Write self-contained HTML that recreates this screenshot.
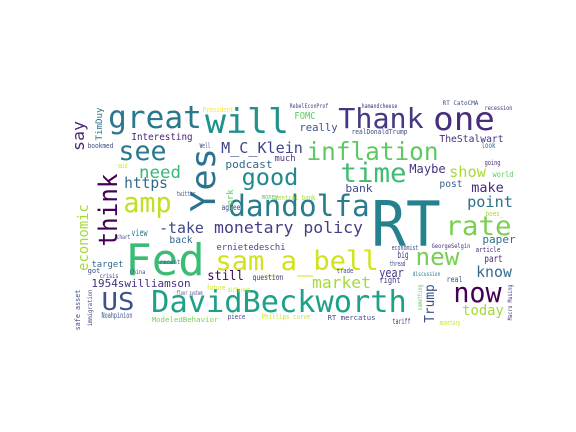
<!DOCTYPE html>
<html><head><meta charset="utf-8"><style>
html,body{margin:0;padding:0;background:#fff;}
svg{display:block;}
text{font-family:"DejaVu Sans Mono","Liberation Mono",monospace;}
</style></head><body>
<svg id="cloud" width="576" height="432" viewBox="0 0 576 432" xmlns="http://www.w3.org/2000/svg">
<rect x="0" y="0" width="576" height="432" fill="#ffffff"/>
</svg>
<script>
// word, left x, baseline y, font size, ink length, color, vertical?
const words = [
["RT",375,246,62,62,"#26818e",0],
["Fed",128,275,44,74,"#3bbb75",0],
["DavidBeckworth",153,312,30,252,"#1fa088",0],
["sam_a_bell",217,270,27,160,"#d2e21b",0],
["inflation",308,160,25,129,"#5ec962",0],
["time",342,182,27,63,"#3fbc73",0],
["Thank",340,128,28,82,"#453781",0],
["one",435,130,32,58,"#472d7b",0],
["will",207,133,34,80,"#21918c",0],
["great",110,128,31,90,"#2a788e",0],
["Yes",215,210,34,60,"#2c728e",1],
["good",243,185,23,54,"#23898e",0],
["dandolfa",230,216,29,138,"#287c8e",0],
["see",120,160,27,45,"#2a788e",0],
["think",117,245,26,70,"#440154",1],
["amp",125,212,28,45,"#c0df25",0],
["rate",447,235,27,63,"#7ad151",0],
["new",417,265,24,41,"#75d054",0],
["now",455,302,28,45,"#440154",0],
["US",103,310,25,30,"#3b528b",0],
["M_C_Klein",222,153,15,80,"#414487",0],
["monetary policy",215,233,16,147,"#433e85",0],
["market",313,288,16,57,"#a5db36",0],
["https",125,188,15,42,"#31688e",0],
["need",140,178,17,40,"#37b878",0],
["-take",160,233,15,43,"#3f4788",0],
["still",208,280,13,35,"#440154",0],
["1954swilliamson",92,287,11,98,"#46307e",0],
["show",450,177,15,35,"#a8db34",0],
["make",472,192,13,31,"#472c7a",0],
["point",468,207,15,44,"#2d708e",0],
["know",477,277,15,34,"#2f6c8e",0],
["today",463,315,14,40,"#a2da37",0],
["Trump",434,322,13,37,"#3b528b",1],
["paper",483,243,11,32,"#2e6e8e",0],
["Maybe",410,173,12,35,"#46327e",0],
["post",440,187,10,22,"#355f8d",0],
["bank",346,192,11,26,"#3e4a89",0],
["podcast",226,168,11,46,"#31688e",0],
["Interesting",132,140,10,60,"#482475",0],
["year",380,277,12,23,"#453882",0],
["economic",88,270,14,65,"#a5db36",1],
["FOMC",295,119,10,20,"#5ec962",0],
["really",300,131,11,37,"#3a548c",0],
["TheStalwart",440,142,10,63,"#46307e",0],
["realDonaldTrump",352,134,7,55,"#3e4a89",0],
["ernietedeschi",217,250,9,68,"#3e4989",0],
["back",170,243,10,22,"#33638d",0],
["view",132,236,10,15,"#2a788e",0],
["target",92,267,9,31,"#31688e",0],
["say",84,150,16,28,"#482878",1],
["TimDuy",102,140,9,32,"#2a788e",1],
["much",275,161,9,20,"#46327e",0],
["work",233,210,9,20,"#5ec962",1],
["Noahpinion",102,318,8,30,"#3b528b",0],
["ModeledBehavior",152,322,7,66,"#7ad151",0],
["Phillips curve",262,319,7,48,"#d2e21b",0],
["RT mercatus",328,320,7,47,"#3e4a89",0],
["tariff",393,324,8,17,"#46327e",0],
["monetary",440,325,7,20,"#d2e21b",0],
["question",253,280,8,30,"#46327e",0],
["future",207,290,7,18,"#d2e21b",0],
["different",228,292,6,22,"#d2e21b",0],
["floor system",177,295,6,25,"#414487",0],
["piece",228,319,7,17,"#3e4a89",0],
["right",380,283,9,20,"#453882",0],
["big",398,258,10,10,"#453882",0],
["part",485,262,10,17,"#482878",0],
["thread",390,266,7,15,"#3e4a89",0],
["trade",337,273,7,16,"#3e4a89",0],
["economist",392,250,7,26,"#3e4a89",0],
["discussion",413,276,6,27,"#2a788e",0],
["GeorgeSelgin",432,248,6,38,"#46307e",0],
["real",447,282,8,15,"#3b528b",0],
["article",476,252,7,24,"#482878",0],
["boes_",486,216,7,17,"#a5db36",0],
["world",493,177,8,20,"#5ec962",0],
["look",482,148,8,13,"#31688e",0],
["going",485,165,7,15,"#46307e",0],
["recession",485,110,6,27,"#482878",0],
["RT CatoCMA",443,105,6,35,"#3e4a89",0],
["RebelEconProf",290,108,6,38,"#3e4a89",0],
["hamandcheese",362,108,6,35,"#46327e",0],
["President",203,112,7,30,"#fde725",0],
["bookmed",88,148,7,25,"#3e4a89",0],
["twitter",177,196,7,18,"#3e4a89",0],
["agree",222,210,8,18,"#3e4a89",0],
["central bank",275,200,7,40,"#a5db36",0],
["money",262,199,7,16,"#5ec962",0],
["said",118,168,7,9,"#d2e21b",0],
["Well",200,148,7,10,"#3e4a89",0],
["got",88,273,7,12,"#3e4a89",0],
["crisis",100,278,6,18,"#46327e",0],
["China",130,274,6,15,"#3e4a89",0],
["chart",117,239,6,13,"#3e4a89",0],
["recent",160,264,6,20,"#31688e",0],
["safe asset",80,330,7,40,"#3e4a89",1],
["immigration",92,326,6,36,"#3e4a89",1],
["something",422,310,6,25,"#5ec962",1],
["Macro Musing",512,320,6,35,"#46327e",1]
];
const svg = document.getElementById('cloud');
const NS = 'http://www.w3.org/2000/svg';
for (const w of words) {
  const t = document.createElementNS(NS, 'text');
  
  
  const size = w[3];
  const off = size * 0.06;
  t.setAttribute('font-size', size);
  t.setAttribute('fill', w[5]);
  t.setAttribute('textLength', w[4] + 2 * off);
  t.setAttribute('lengthAdjust', 'spacingAndGlyphs');
  if (w[6]) {
    t.setAttribute('x', 0);
    t.setAttribute('y', 0);
    t.setAttribute('transform', 'translate(' + w[1] + ',' + (w[2] + off) + ') rotate(-90)');
  } else {
    t.setAttribute('x', w[1] - off);
    t.setAttribute('y', w[2]);
  }
  t.textContent = w[0];
  svg.appendChild(t);
}
</script>
</body></html>
